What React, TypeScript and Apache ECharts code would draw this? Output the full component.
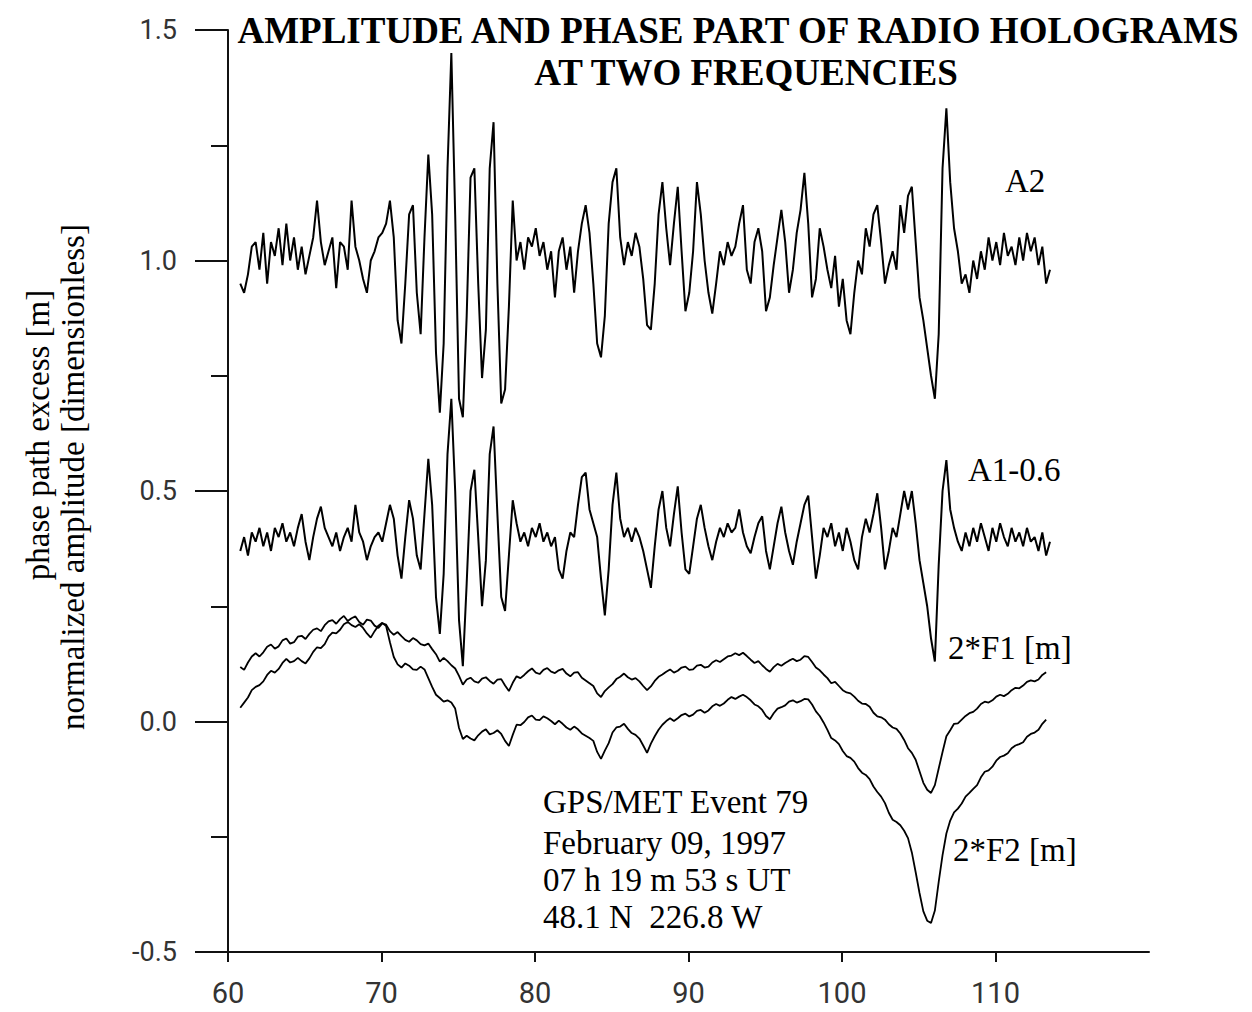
import React, { useEffect, useRef } from "react";
import * as echarts from "echarts";

// sample grid of the digitised records
const X0 = 60.8;
const AMP_STEP = 0.25;
const PHASE_STEP = 0.25;

// A2 (normalized amplitude, L2)
const A2 = [
  0.95, 0.93, 0.97, 1.03, 1.04, 0.98, 1.06, 0.95, 1.04, 1.01,
  1.07, 0.99, 1.08, 1.0, 1.05, 0.98, 1.03, 0.97, 1.01, 1.05,
  1.13, 1.04, 0.99, 1.02, 1.05, 0.94, 1.04, 1.03, 0.98, 1.13,
  1.03, 1.0, 0.96, 0.93, 1.0, 1.02, 1.05, 1.06, 1.08, 1.13,
  1.05, 0.87, 0.82, 0.95, 1.1, 1.12, 0.93, 0.84, 1.05, 1.23,
  1.1, 0.8, 0.67, 0.82, 1.2, 1.45, 1.1, 0.7, 0.66, 0.88,
  1.18, 1.2, 0.95, 0.745, 0.85, 1.2, 1.3, 0.95, 0.69, 0.72,
  0.9, 1.13, 1.0, 1.04, 0.98, 1.05, 1.03, 1.07, 1.01, 1.04,
  0.98, 1.02, 0.92, 1.02, 1.05, 0.98, 1.03, 0.93, 1.02, 1.08,
  1.12, 1.06, 0.95, 0.82, 0.79, 0.88, 1.08, 1.17, 1.2, 1.05,
  0.99, 1.04, 1.01, 1.06, 1.03, 0.96, 0.86, 0.85, 0.95, 1.1,
  1.17, 1.07, 0.99, 1.08, 1.16, 1.02, 0.89, 0.93, 1.02, 1.17,
  1.1, 1.0, 0.93, 0.885, 0.95, 1.02, 0.99, 1.04, 1.01, 1.03,
  1.08, 1.12, 0.98, 0.95, 1.04, 1.07, 1.02, 0.89, 0.92, 0.99,
  1.05, 1.11, 1.04, 0.93, 0.98, 1.06, 1.11, 1.19, 1.08, 0.92,
  0.96, 1.07, 1.03, 0.98, 0.94, 1.01, 0.9, 0.96, 0.87, 0.84,
  0.93, 1.0, 0.97, 1.07, 1.03, 1.1, 1.12, 1.04, 0.95, 0.99,
  1.02, 0.98, 1.12, 1.06, 1.14, 1.16, 1.04, 0.92, 0.87, 0.81,
  0.75, 0.7, 0.84, 1.2, 1.33, 1.17, 1.07, 1.02, 0.95, 0.97,
  0.93, 1.0, 0.96, 1.02, 0.98, 1.05, 1.0, 1.04, 0.99, 1.06,
  1.01, 1.03, 0.99, 1.05, 1.0, 1.06, 1.02, 1.05, 0.99, 1.03,
  0.95, 0.98,
];

// A1 - 0.6 (normalized amplitude, L1, shifted)
const A1 = [
  0.37, 0.4, 0.36, 0.41, 0.39, 0.42, 0.38, 0.41, 0.37, 0.42,
  0.4, 0.43, 0.39, 0.41, 0.38, 0.42, 0.45, 0.39, 0.35, 0.4,
  0.44, 0.466, 0.42, 0.4, 0.38, 0.41, 0.37, 0.4, 0.42, 0.39,
  0.47, 0.41, 0.39, 0.35, 0.38, 0.4, 0.41, 0.39, 0.43, 0.47,
  0.44, 0.36, 0.31, 0.4, 0.48, 0.44, 0.36, 0.33, 0.45, 0.57,
  0.47, 0.27, 0.19, 0.32, 0.58, 0.7, 0.5, 0.22, 0.12, 0.3,
  0.5, 0.546, 0.4, 0.25, 0.35, 0.58, 0.64, 0.45, 0.27, 0.24,
  0.36, 0.48, 0.43, 0.39, 0.41, 0.38, 0.42, 0.4, 0.43, 0.39,
  0.41, 0.38, 0.4, 0.33, 0.31, 0.37, 0.41, 0.4, 0.47, 0.53,
  0.54, 0.46, 0.43, 0.4, 0.31, 0.23, 0.33, 0.47, 0.54, 0.44,
  0.4, 0.42, 0.39, 0.42, 0.4, 0.37, 0.33, 0.29, 0.38, 0.46,
  0.5, 0.42, 0.38, 0.45, 0.51, 0.41, 0.33, 0.32, 0.38, 0.44,
  0.47, 0.42, 0.38, 0.35, 0.39, 0.42, 0.4, 0.43, 0.41, 0.42,
  0.46, 0.41, 0.38, 0.365, 0.4, 0.43, 0.445, 0.37, 0.33, 0.38,
  0.43, 0.466, 0.41, 0.37, 0.34, 0.39, 0.43, 0.47, 0.49, 0.4,
  0.31, 0.36, 0.42, 0.4, 0.43, 0.38, 0.41, 0.37, 0.42, 0.39,
  0.35, 0.33, 0.4, 0.44, 0.41, 0.45, 0.495, 0.42, 0.33, 0.37,
  0.42, 0.4, 0.45, 0.5, 0.46, 0.5, 0.43, 0.35, 0.3, 0.25,
  0.18, 0.13, 0.34, 0.5, 0.567, 0.46, 0.42, 0.39, 0.37, 0.41,
  0.38, 0.42, 0.39, 0.43, 0.4, 0.37, 0.42, 0.39, 0.43, 0.4,
  0.38, 0.42, 0.39, 0.41, 0.38, 0.42, 0.39, 0.4, 0.37, 0.41,
  0.36, 0.39,
];

// 2*F1 [m] (phase path excess, L1)
const F1 = [
  0.118, 0.112, 0.128, 0.141, 0.148, 0.141, 0.15, 0.162, 0.167, 0.158,
  0.163, 0.176, 0.18, 0.169, 0.172, 0.184, 0.186, 0.179, 0.19, 0.199,
  0.202, 0.196, 0.209, 0.217, 0.22, 0.212, 0.222, 0.229, 0.218, 0.224,
  0.228, 0.216, 0.21, 0.221, 0.219, 0.208, 0.203, 0.213, 0.21, 0.196,
  0.188, 0.194, 0.185, 0.177, 0.173, 0.181, 0.176, 0.168, 0.165, 0.169,
  0.157, 0.146, 0.13, 0.138, 0.131, 0.122, 0.115, 0.099, 0.08, 0.091,
  0.095, 0.087, 0.084, 0.093, 0.096, 0.088, 0.082, 0.091, 0.092, 0.078,
  0.066, 0.084, 0.098, 0.094, 0.101, 0.109, 0.115, 0.106, 0.103, 0.112,
  0.116, 0.108, 0.105, 0.111, 0.114, 0.104, 0.098, 0.106, 0.107, 0.095,
  0.089, 0.083, 0.077, 0.061, 0.053, 0.066, 0.074, 0.081, 0.092, 0.097,
  0.104, 0.096, 0.091, 0.094, 0.087, 0.077, 0.068, 0.076, 0.088, 0.097,
  0.102, 0.108, 0.113, 0.106, 0.11, 0.117, 0.119, 0.112, 0.113, 0.121,
  0.123, 0.117, 0.119, 0.128, 0.133, 0.129, 0.135, 0.141, 0.143, 0.148,
  0.144, 0.149, 0.142, 0.134, 0.127, 0.131, 0.122, 0.114, 0.108, 0.118,
  0.125, 0.121, 0.127, 0.132, 0.136, 0.131, 0.134, 0.142, 0.14, 0.129,
  0.117, 0.111, 0.102, 0.094, 0.083, 0.086, 0.077, 0.068, 0.063, 0.061,
  0.054, 0.045, 0.039, 0.038, 0.032, 0.019, 0.011, 0.009, 0.004, -0.006,
  -0.013, -0.016, -0.026, -0.04, -0.058, -0.068, -0.083, -0.108, -0.133, -0.148,
  -0.155, -0.138, -0.102, -0.066, -0.032, -0.019, -0.005, -0.004, 0.004, 0.012,
  0.018, 0.021, 0.028, 0.038, 0.043, 0.041, 0.046, 0.054, 0.058, 0.055,
  0.06, 0.068, 0.073, 0.072, 0.078, 0.086, 0.089, 0.087, 0.091, 0.101,
  0.107,
];

// 2*F2 [m] (phase path excess, L2)
const F2 = [
  0.03, 0.041, 0.052, 0.068, 0.075, 0.079, 0.087, 0.101, 0.11, 0.106,
  0.114, 0.127, 0.136, 0.128, 0.131, 0.138, 0.131, 0.126, 0.137, 0.151,
  0.161, 0.159, 0.168, 0.184, 0.193, 0.191, 0.199, 0.211, 0.216, 0.209,
  0.205, 0.211, 0.203, 0.191, 0.182, 0.196, 0.208, 0.214, 0.207, 0.172,
  0.14, 0.124, 0.117, 0.126, 0.121, 0.113, 0.112, 0.119, 0.113, 0.094,
  0.075, 0.058, 0.051, 0.043, 0.046, 0.041, 0.028, -0.014, -0.038, -0.031,
  -0.037, -0.041, -0.03, -0.022, -0.017, -0.028, -0.025, -0.019, -0.027, -0.042,
  -0.053, -0.029, -0.007, -0.008, -0.001, 0.009, 0.013, 0.004, 0.003, 0.011,
  0.007, 0.001, -0.006, 0.002, -0.005, -0.013, -0.018, -0.011, -0.017, -0.026,
  -0.031, -0.036, -0.042, -0.066, -0.081, -0.063, -0.047, -0.024, -0.013, -0.011,
  -0.005, -0.016, -0.025, -0.029, -0.037, -0.052, -0.068, -0.048, -0.032, -0.018,
  -0.007, 0.001, 0.007, 0.001, 0.007, 0.014, 0.017, 0.011, 0.015, 0.023,
  0.025, 0.019, 0.024, 0.033, 0.038, 0.034, 0.039, 0.047, 0.053, 0.049,
  0.054, 0.058, 0.053, 0.046, 0.037, 0.033, 0.025, 0.012, 0.005, 0.018,
  0.028, 0.031, 0.035, 0.043, 0.046, 0.041, 0.044, 0.049, 0.048, 0.037,
  0.022, 0.012, -0.002, -0.018, -0.036, -0.041, -0.049, -0.064, -0.075, -0.079,
  -0.087, -0.101, -0.111, -0.116, -0.125, -0.141, -0.153, -0.163, -0.177, -0.198,
  -0.213, -0.218, -0.225, -0.237, -0.253, -0.284, -0.327, -0.372, -0.412, -0.432,
  -0.437, -0.41, -0.348, -0.29, -0.243, -0.215, -0.197, -0.189, -0.178, -0.163,
  -0.155, -0.146, -0.138, -0.121, -0.109, -0.106, -0.098, -0.085, -0.077, -0.074,
  -0.069, -0.058, -0.052, -0.049, -0.045, -0.033, -0.027, -0.024, -0.018, -0.005,
  0.004,
];

const TITLE_LINES = [
  "AMPLITUDE AND PHASE PART OF RADIO HOLOGRAMS",
  "AT TWO FREQUENCIES",
];
const Y_TITLE_LINES = ["phase path excess [m]", "normalized amplitude [dimensionless]"];
const SERIES_NAMES = ["A2", "A1-0.6", "2*F1 [m]", "2*F2 [m]"];
const INFO_LINES = [
  "GPS/MET Event 79",
  "February 09, 1997",
  "07 h 19 m 53 s UT",
  "48.1 N  226.8 W",
];

const SERIF = "'Liberation Serif', 'Times New Roman', serif";
const TICK_FONT = "Roboto, 'DejaVu Sans', sans-serif";
const INK = "#111";

function toPairs(vals: number[], step: number): number[][] {
  return vals.map((v, i) => [+(X0 + i * step).toFixed(2), v]);
}

export default function App() {
  const ref = useRef<HTMLDivElement>(null);

  useEffect(() => {
    if (!ref.current) return;
    const chart = echarts.init(ref.current, undefined, { renderer: "svg" });

    const lineSeries = (name: string, vals: number[], step: number, width: number) => ({
      name,
      type: "line",
      data: toPairs(vals, step),
      showSymbol: false,
      symbol: "none",
      silent: true,
      lineStyle: { color: "#000", width },
    });

    const textEl = (text: string, x: number, y: number, extra: any = {}) => ({
      type: "text",
      x,
      y,
      silent: true,
      style: {
        text,
        fill: "#000",
        font: `33px ${SERIF}`,
        align: "left",
        verticalAlign: "middle",
        ...extra,
      },
    });

    const option: any = {
      animation: false,
      backgroundColor: "#fff",
      grid: { left: 228, top: 30, width: 921, height: 922 },
      xAxis: {
        type: "value",
        min: 60,
        max: 120,
        interval: 10,
        axisLine: { show: true, onZero: false, lineStyle: { color: INK, width: 2 } },
        axisTick: { show: true, length: 10, lineStyle: { color: INK, width: 2 } },
        axisLabel: {
          showMaxLabel: false,
          margin: 26,
          fontFamily: TICK_FONT,
          fontSize: 29,
          color: "#333",
        },
        splitLine: { show: false },
      },
      yAxis: {
        type: "value",
        min: -0.5,
        max: 1.5,
        interval: 0.5,
        axisLine: { show: true, onZero: false, lineStyle: { color: INK, width: 2 } },
        axisTick: { show: true, length: 33, lineStyle: { color: INK, width: 2 } },
        minorTick: { show: true, splitNumber: 2, length: 17, lineStyle: { color: INK, width: 2 } },
        axisLabel: {
          margin: 51,
          fontFamily: TICK_FONT,
          fontSize: 27,
          color: "#333",
          formatter: (v: number) => v.toFixed(1),
        },
        splitLine: { show: false },
      },
      series: [
        lineSeries(SERIES_NAMES[0], A2, AMP_STEP, 2),
        lineSeries(SERIES_NAMES[1], A1, AMP_STEP, 2),
        lineSeries(SERIES_NAMES[2], F1, PHASE_STEP, 1.8),
        lineSeries(SERIES_NAMES[3], F2, PHASE_STEP, 1.8),
      ],
      graphic: [
        textEl(TITLE_LINES[0], 738, 30, {
          font: `bold 37px ${SERIF}`,
          align: "center",
        }),
        textEl(TITLE_LINES[1], 746, 72, {
          font: `bold 37px ${SERIF}`,
          align: "center",
        }),
        {
          type: "text",
          x: 38,
          y: 435,
          rotation: Math.PI / 2,
          silent: true,
          style: {
            text: Y_TITLE_LINES[0],
            fill: "#000",
            font: `33px ${SERIF}`,
            align: "center",
            verticalAlign: "middle",
          },
        },
        {
          type: "text",
          x: 73,
          y: 477,
          rotation: Math.PI / 2,
          silent: true,
          style: {
            text: Y_TITLE_LINES[1],
            fill: "#000",
            font: `33px ${SERIF}`,
            align: "center",
            verticalAlign: "middle",
          },
        },
        textEl(SERIES_NAMES[0], 1005, 181),
        textEl(SERIES_NAMES[1], 968, 470),
        textEl(SERIES_NAMES[2], 948, 648),
        textEl(SERIES_NAMES[3], 953, 850),
        textEl(INFO_LINES[0], 543, 802),
        textEl(INFO_LINES[1], 543, 843),
        textEl(INFO_LINES[2], 543, 880),
        textEl(INFO_LINES[3], 543, 917),
      ],
    };

    chart.setOption(option);
    return () => chart.dispose();
  }, []);

  return (
    <div
      ref={ref}
      style={{ position: "absolute", left: 0, top: 0, width: 1252, height: 1012 }}
    />
  );
}
